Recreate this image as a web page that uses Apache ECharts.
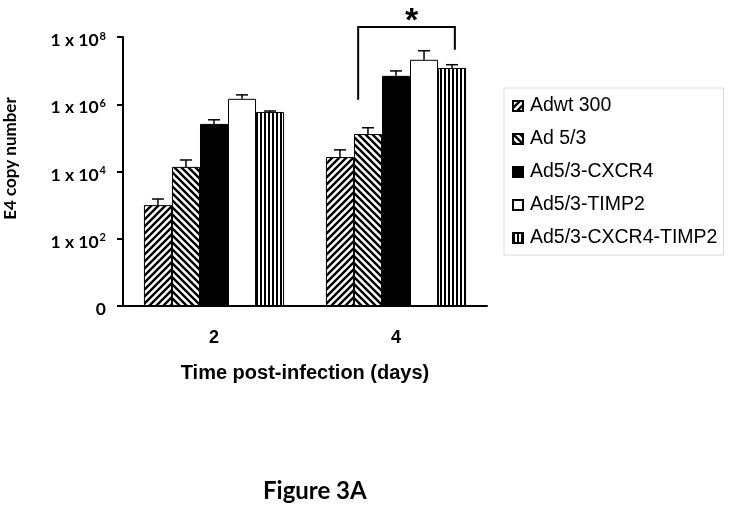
<!DOCTYPE html>
<html><head><meta charset="utf-8">
<script src="https://cdn.jsdelivr.net/npm/echarts@6/dist/echarts.min.js"></script>
<style>html,body{margin:0;padding:0;background:#fff}#c{width:729px;height:509px}</style>
</head><body><div id="c"></div>
<script>
// ---- data ----
const categories = ['2', '4'];
const seriesNames = ['Adwt 300', 'Ad 5/3', 'Ad5/3-CXCR4', 'Ad5/3-TIMP2', 'Ad5/3-CXCR4-TIMP2'];
const adwt300      = [1000,    27000];
const ad53         = [13700,   130000];
const cxcr4        = [260000,  7000000];
const timp2        = [1450000, 21000000];
const cxcr4timp2   = [590000,  12000000];
const adwt300Err    = [1520,    44000];
const ad53Err       = [22000,   200000];
const cxcr4Err      = [345000,  9800000];
const timp2Err      = [1900000, 39000000];
const cxcr4timp2Err = [630000,  15000000];
const yTickExponents = [0, 2, 4, 6, 8];
// significance bracket: day 4, Ad 5/3 .. Ad5/3-CXCR4-TIMP2
const sigCategory = 1;
const sigFrom = 1, sigTo = 4;
const sigTop = 2e8, sigLeftEnd = 1.35e6, sigRightEnd = 4.2e7;

const values = [adwt300, ad53, cxcr4, timp2, cxcr4timp2];
const errs = [adwt300Err, ad53Err, cxcr4Err, timp2Err, cxcr4timp2Err];

// ---- patterns ----
function pattern(kind) {
  const s = kind === 'v' ? 4 : 7;
  const c = document.createElement('canvas');
  c.width = s; c.height = s;
  const g = c.getContext('2d');
  g.fillStyle = '#fff'; g.fillRect(0, 0, s, s);
  g.strokeStyle = '#000'; g.fillStyle = '#000'; g.lineWidth = 2.4;
  g.beginPath();
  if (kind === '/') {
    g.moveTo(0, s); g.lineTo(s, 0);
    g.moveTo(-s/2, s/2); g.lineTo(s/2, -s/2);
    g.moveTo(s/2, s*1.5); g.lineTo(s*1.5, s/2);
    g.stroke();
  } else if (kind === '\\') {
    g.moveTo(0, 0); g.lineTo(s, s);
    g.moveTo(-s/2, s/2); g.lineTo(s/2, s*1.5);
    g.moveTo(s/2, -s/2); g.lineTo(s*1.5, s/2);
    g.stroke();
  } else {
    g.fillRect(0, 0, 2, s);
  }
  return { image: c, repeat: 'repeat' };
}
const fills = [pattern('/'), pattern('\\'), '#000', '#fff', pattern('v')];

const GAP = 0.23;
const bandW = (api) => api.coord([1, 1])[0] - api.coord([0, 1])[0];
function barCenter(api, cat, slot) {
  const bw = bandW(api) * (1 - GAP) / 5;
  return api.coord([cat, 1])[0] - 2.5 * bw + bw * slot;
}

const errData = [];
values.forEach((arr, i) => arr.forEach((v, c) => errData.push([c, i, v, errs[i][c]])));

const series = seriesNames.map((name, i) => ({
  name, type: 'bar', data: values[i], barGap: '0%', barCategoryGap: (GAP * 100) + '%',
  itemStyle: { color: fills[i], borderColor: '#000', borderWidth: 1 },
  emphasis: { disabled: true }, animation: false
}));
series.push({
  type: 'custom', data: errData, z: 5, animation: false, silent: true,
  renderItem(params, api) {
    const cat = api.value(0), idx = api.value(1);
    const x = barCenter(api, cat, idx + 0.5);
    const y0 = api.coord([cat, api.value(2)])[1];
    const y1 = api.coord([cat, api.value(3)])[1];
    return { type: 'group', children: [
      { type: 'line', shape: { x1: x, y1: y0, x2: x, y2: y1 }, style: { stroke: '#000', lineWidth: 1.5 } },
      { type: 'line', shape: { x1: x - 6, y1: y1, x2: x + 6, y2: y1 }, style: { stroke: '#000', lineWidth: 1.5 } }
    ]};
  }
});
series.push({
  type: 'custom', data: [[sigCategory, sigFrom, sigTo, sigTop, sigLeftEnd, sigRightEnd]],
  z: 6, animation: false, silent: true, clip: false,
  renderItem(params, api) {
    const cat = api.value(0);
    const xl = barCenter(api, cat, api.value(1) + 0.15);
    const xr = barCenter(api, cat, api.value(2) + 0.6);
    const yt = api.coord([cat, api.value(3)])[1];
    const yl = api.coord([cat, api.value(4)])[1];
    const yr = api.coord([cat, api.value(5)])[1];
    return { type: 'group', children: [
      { type: 'polyline', shape: { points: [[xl, yl], [xl, yt], [xr, yt], [xr, yr]] },
        style: { stroke: '#000', lineWidth: 2, fill: null } },
      { type: 'text', x: (xl + xr) / 2 + 5, y: yt - 22,
        style: { text: '*', fill: '#000', font: 'bold 34px "Liberation Sans"', align: 'center', verticalAlign: 'top' } }
    ]};
  }
});

const chart = echarts.init(document.getElementById('c'), null, { renderer: 'canvas' });
chart.setOption({
  backgroundColor: '#fff',
  animation: false,
  title: {
    text: 'Figure 3A', left: 258, top: 474,
    textStyle: { fontFamily: 'Lato', fontWeight: 'bold', fontSize: 24, color: '#000' }
  },
  legend: {
    data: seriesNames, orient: 'vertical', left: 504, top: 88,
    padding: [8, 6, 7, 8], itemGap: 13, itemWidth: 10, itemHeight: 10, icon: 'rect',
    borderColor: '#d9d9d9', borderWidth: 1, selectedMode: false,
    textStyle: { fontFamily: 'Liberation Sans', fontSize: 19.5, color: '#000', padding: [0, 0, 0, 2] }
  },
  grid: { left: 123, top: 37, width: 364, height: 269, containLabel: false },
  xAxis: {
    type: 'category', data: categories,
    name: 'Time post-infection (days)', nameLocation: 'middle', nameGap: 57,
    nameTextStyle: { fontFamily: 'Liberation Sans', fontWeight: 'bold', fontSize: 20, color: '#000' },
    axisLine: { lineStyle: { color: '#000', width: 2 } },
    axisTick: { length: 6, lineStyle: { color: '#000', width: 2 } },
    axisLabel: { margin: 23, fontFamily: 'Liberation Sans', fontWeight: 'bold', fontSize: 18, color: '#000' }
  },
  yAxis: {
    type: 'log', logBase: 10, min: 1, max: 1e8, interval: 2,
    name: 'E4 copy number', nameLocation: 'middle', nameGap: 104, nameRotate: 90,
    nameTextStyle: { fontFamily: 'Lato', fontWeight: 'bold', fontSize: 17, color: '#000', padding: [0, 0, 0, 26] },
    axisLine: { show: true, lineStyle: { color: '#000', width: 2 } },
    axisTick: { show: true, length: 6, lineStyle: { color: '#000', width: 2 } },
    splitLine: { show: false },
    axisLabel: {
      margin: 17, color: '#000', padding: [6, 0, 0, 0],
      formatter: (v) => {
        const e = Math.round(Math.log10(v));
        if (!yTickExponents.includes(e)) return '';
        return e === 0 ? '{b|0}' : '{b|1 x 10}{s|' + e + '}';
      },
      rich: {
        b: { fontFamily: 'Lato', fontWeight: 'bold', fontSize: 17.5, color: '#000', verticalAlign: 'bottom' },
        s: { fontFamily: 'Lato', fontWeight: 'bold', fontSize: 11, color: '#000', verticalAlign: 'bottom', padding: [0, 0, 8, 1] }
      }
    }
  },
  series
});
</script></body></html>
